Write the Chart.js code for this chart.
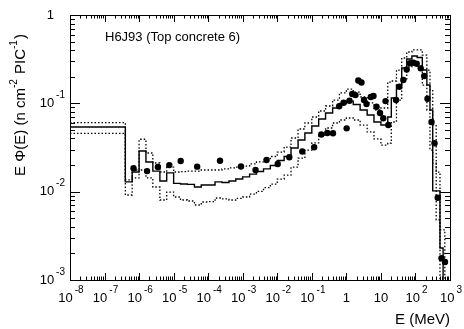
<!DOCTYPE html>
<html>
<head>
<meta charset="utf-8">
<script src="https://cdn.jsdelivr.net/npm/chart.js@4.4.1/dist/chart.umd.min.js"></script>
<style>
  html, body { margin: 0; padding: 0; background: #fff; }
  canvas { display: block; }
</style>
</head>
<body>
<canvas id="spectrum" width="464" height="329"></canvas>
<script>
// bin edges in MeV (54 bins)
const binEdges = [1e-8, 4.0e-7, 6.3e-7, 1.0e-6, 1.58e-6, 2.5e-6, 4.0e-6, 6.3e-6, 1e-5, 1.58e-5,
  2.5e-5, 4e-5, 6.3e-5, 1e-4, 1.58e-4, 2.5e-4, 4e-4, 6.3e-4, 1e-3, 1.58e-3,
  2.5e-3, 4e-3, 6.3e-3, 0.01, 0.0158, 0.025, 0.04, 0.063, 0.1, 0.158,
  0.25, 0.4, 0.63, 1, 1.58, 2.5, 4, 6.3, 10, 15.8,
  20, 28.2, 40, 56, 79, 112, 158, 214, 263, 316,
  398, 513, 631, 708, 1000];

const calcFlux = [0.054, 0.0129, 0.0167, 0.0289, 0.0217, 0.0171, 0.0132, 0.0163, 0.0124, 0.0122,
  0.0121, 0.0113, 0.0119, 0.0119, 0.0129, 0.0127, 0.0132, 0.0139, 0.0147, 0.0158,
  0.0169, 0.0181, 0.0198, 0.0225, 0.0250, 0.0312, 0.0384, 0.0461, 0.0554, 0.0665,
  0.0777, 0.0886, 0.0995, 0.106, 0.097, 0.084, 0.0738, 0.0615, 0.0568, 0.070,
  0.115, 0.161, 0.251, 0.318, 0.343, 0.330, 0.238, 0.161, 0.084, 0.0102,
  0.0102, 0.0023, 0.0001, 0.0001];

const calcUpper = [0.0604, 0.0136, 0.0176, 0.0392, 0.0274, 0.0211, 0.0167, 0.019, 0.0167, 0.0169,
  0.0171, 0.0171, 0.0176, 0.0176, 0.0176, 0.0181, 0.0186, 0.019, 0.0195, 0.0206,
  0.0217, 0.0231, 0.025, 0.0281, 0.032, 0.0405, 0.0512, 0.0599, 0.070, 0.0819,
  0.0933, 0.109, 0.131, 0.145, 0.134, 0.118, 0.101, 0.084, 0.0886, 0.174,
  0.179, 0.238, 0.326, 0.381, 0.402, 0.402, 0.352, 0.238, 0.142, 0.057,
  0.0166, 0.0037, 0.0037, 0.0001];

const calcLower = [0.0458, 0.00917, 0.0143, 0.0176, 0.0143, 0.0113, 0.00805, 0.0099, 0.0087, 0.00805,
  0.00784, 0.00706, 0.00764, 0.0077, 0.00848, 0.0083, 0.00805, 0.0084, 0.0087, 0.0094,
  0.0101, 0.0111, 0.0122, 0.0139, 0.0154, 0.019, 0.024, 0.0296, 0.0356, 0.0438,
  0.0526, 0.0599, 0.0648, 0.0682, 0.0648, 0.0568, 0.0474, 0.0395, 0.0337, 0.0355,
  0.0615, 0.109, 0.184, 0.258, 0.279, 0.265, 0.161, 0.084, 0.0296, 0.021,
  0.0048, 0.0001, 0.0001, 0.0001];

// measured points
const measE = [6.9e-7, 1.7e-6, 3.5e-6, 7.5e-6, 1.6e-5, 4.8e-5, 2.2e-4, 8.9e-4, 2.35e-3, 4.9e-3,
  1.03e-2, 2.23e-2, 5.3e-2, 0.117, 0.188, 0.28, 0.41, 1.02, 0.62, 0.83,
  1.23, 1.48, 1.84, 2.22, 2.74, 3.24, 3.83, 5.1, 6.1, 7.46,
  9.4, 11.7, 13.6, 16.4, 27.4, 34.1, 44.5, 55.8, 69.5, 86.7,
  108.7, 142, 179, 223, 292, 356, 441, 568, 716];
const measFlux = [0.0184, 0.0171, 0.019, 0.020, 0.0222, 0.0192, 0.0224, 0.0193, 0.0176, 0.0228,
  0.0206, 0.0245, 0.0285, 0.0318, 0.0444, 0.0461, 0.0458, 0.0521, 0.0925, 0.1017,
  0.107, 0.1275, 0.124, 0.181, 0.172, 0.109, 0.098, 0.118, 0.121, 0.0916,
  0.0777, 0.0677, 0.106, 0.0568, 0.109, 0.154, 0.184, 0.242, 0.284, 0.288,
  0.281, 0.249, 0.204, 0.1125, 0.0615, 0.0353, 0.00855, 0.00176, 0.0016];

const xTicks = [1e-8, 1e-7, 1e-6, 1e-5, 1e-4, 1e-3, 1e-2, 1e-1, 1, 10, 100, 1000];
const xTickLabels = [["10", "-8"], ["10", "-7"], ["10", "-6"], ["10", "-5"], ["10", "-4"], ["10", "-3"],
  ["10", "-2"], ["10", "-1"], ["1", ""], ["10", ""], ["10", "2"], ["10", "3"]];
const yTicks = [1e-3, 1e-2, 1e-1, 1];
const yTickLabels = [["10", "-3"], ["10", "-2"], ["10", "-1"], ["1", ""]];

const FONT = "'Liberation Sans', Arial, Helvetica, sans-serif";

function histPoints(edges, vals) {
  const pts = vals.map((v, i) => ({ x: edges[i], y: v }));
  pts.push({ x: edges[vals.length], y: vals[vals.length - 1] });
  return pts;
}

function drawPow(ctx, base, exp, x, y, align, size) {
  ctx.font = size + "px " + FONT;
  const wb = ctx.measureText(base).width;
  ctx.font = (size - 3) + "px " + FONT;
  const we = exp ? ctx.measureText(exp).width + 2 : 0;
  const total = wb + we;
  let x0 = align === "center" ? x - total / 2 : x - total;
  ctx.textAlign = "left";
  ctx.textBaseline = "middle";
  ctx.font = size + "px " + FONT;
  ctx.fillText(base, x0, y);
  if (exp) {
    ctx.font = (size - 3) + "px " + FONT;
    ctx.fillText(exp, x0 + wb + 2, y - 8);
  }
}

const frame = {
  id: "frame",
  afterDraw(chart) {
    const { ctx, chartArea: a, scales: { x, y } } = chart;
    ctx.save();
    ctx.strokeStyle = "#000";
    ctx.fillStyle = "#000";
    ctx.lineWidth = 1;
    ctx.strokeRect(a.left + 0.5, a.top + 0.5, a.right - a.left, a.bottom - a.top);
    ctx.beginPath();
    xTicks.forEach(t => {
      for (let m = 1; m < 10; m++) {
        const v = t * m;
        if (v > 1000) break;
        const px = Math.round(x.getPixelForValue(v)) + 0.5;
        const len = m === 1 ? 7 : 3.5;
        ctx.moveTo(px, a.bottom); ctx.lineTo(px, a.bottom - len);
        ctx.moveTo(px, a.top); ctx.lineTo(px, a.top + len);
      }
    });
    yTicks.forEach(t => {
      for (let m = 1; m < 10; m++) {
        const v = t * m;
        if (v > 1) break;
        const py = Math.round(y.getPixelForValue(v)) + 0.5;
        const len = m === 1 ? 10 : 5;
        ctx.moveTo(a.left, py); ctx.lineTo(a.left + len, py);
        ctx.moveTo(a.right, py); ctx.lineTo(a.right - len, py);
      }
    });
    ctx.stroke();

    xTicks.forEach((t, i) => {
      const [b, e] = xTickLabels[i];
      drawPow(ctx, b, e, x.getPixelForValue(t) + (e ? 1 : 0), a.bottom + 18, "center", 13);
    });
    yTicks.forEach((t, i) => {
      const [b, e] = yTickLabels[i];
      drawPow(ctx, b, e, e ? a.left - 5 : a.left - 16, y.getPixelForValue(t), "right", 13);
    });

    ctx.font = "15px " + FONT;
    ctx.textAlign = "right";
    ctx.textBaseline = "alphabetic";
    ctx.fillText("E (MeV)", a.right, 324);

    ctx.font = "13px " + FONT;
    ctx.textAlign = "left";
    ctx.fillText("H6J93 (Top concrete 6)", 105, 41);

    const parts = [["E \u03A6(E) (n cm", false], ["-2", true], [" PIC", false], ["-1", true], [")", false]];
    let total = 0;
    parts.forEach(([s, sup]) => {
      ctx.font = (sup ? 10 : 15) + "px " + FONT;
      total += ctx.measureText(s).width + (sup ? 1 : 0);
    });
    ctx.translate(25, 105);
    ctx.rotate(-Math.PI / 2);
    let cx = -total / 2;
    parts.forEach(([s, sup]) => {
      ctx.font = (sup ? 10 : 15) + "px " + FONT;
      ctx.fillText(s, cx, sup ? -8 : 0);
      cx += ctx.measureText(s).width + (sup ? 1 : 0);
    });
    ctx.restore();
  }
};

new Chart(document.getElementById("spectrum").getContext("2d"), {
  type: "line",
  data: {
    datasets: [
      {
        data: histPoints(binEdges, calcUpper),
        stepped: true,
        borderColor: "#000",
        borderWidth: 1.3,
        borderDash: [1.5, 2],
        pointRadius: 0,
        fill: false
      },
      {
        data: histPoints(binEdges, calcLower),
        stepped: true,
        borderColor: "#000",
        borderWidth: 1.3,
        borderDash: [1.5, 2],
        pointRadius: 0,
        fill: false
      },
      {
        data: histPoints(binEdges, calcFlux),
        stepped: true,
        borderColor: "#000",
        borderWidth: 1.4,
        pointRadius: 0,
        fill: false
      },
      {
        data: measE.map((e, i) => ({ x: e, y: measFlux[i] })),
        showLine: false,
        pointRadius: 3.2,
        pointBackgroundColor: "#000",
        pointBorderWidth: 0
      }
    ]
  },
  options: {
    responsive: false,
    animation: false,
    devicePixelRatio: 1,
    layout: { padding: { left: 70, right: 14, top: 15, bottom: 49 } },
    plugins: { legend: { display: false }, tooltip: { enabled: false } },
    scales: {
      x: { type: "logarithmic", min: 1e-8, max: 1000, display: false },
      y: { type: "logarithmic", min: 1e-3, max: 1, display: false }
    }
  },
  plugins: [frame]
});
</script>
</body>
</html>
